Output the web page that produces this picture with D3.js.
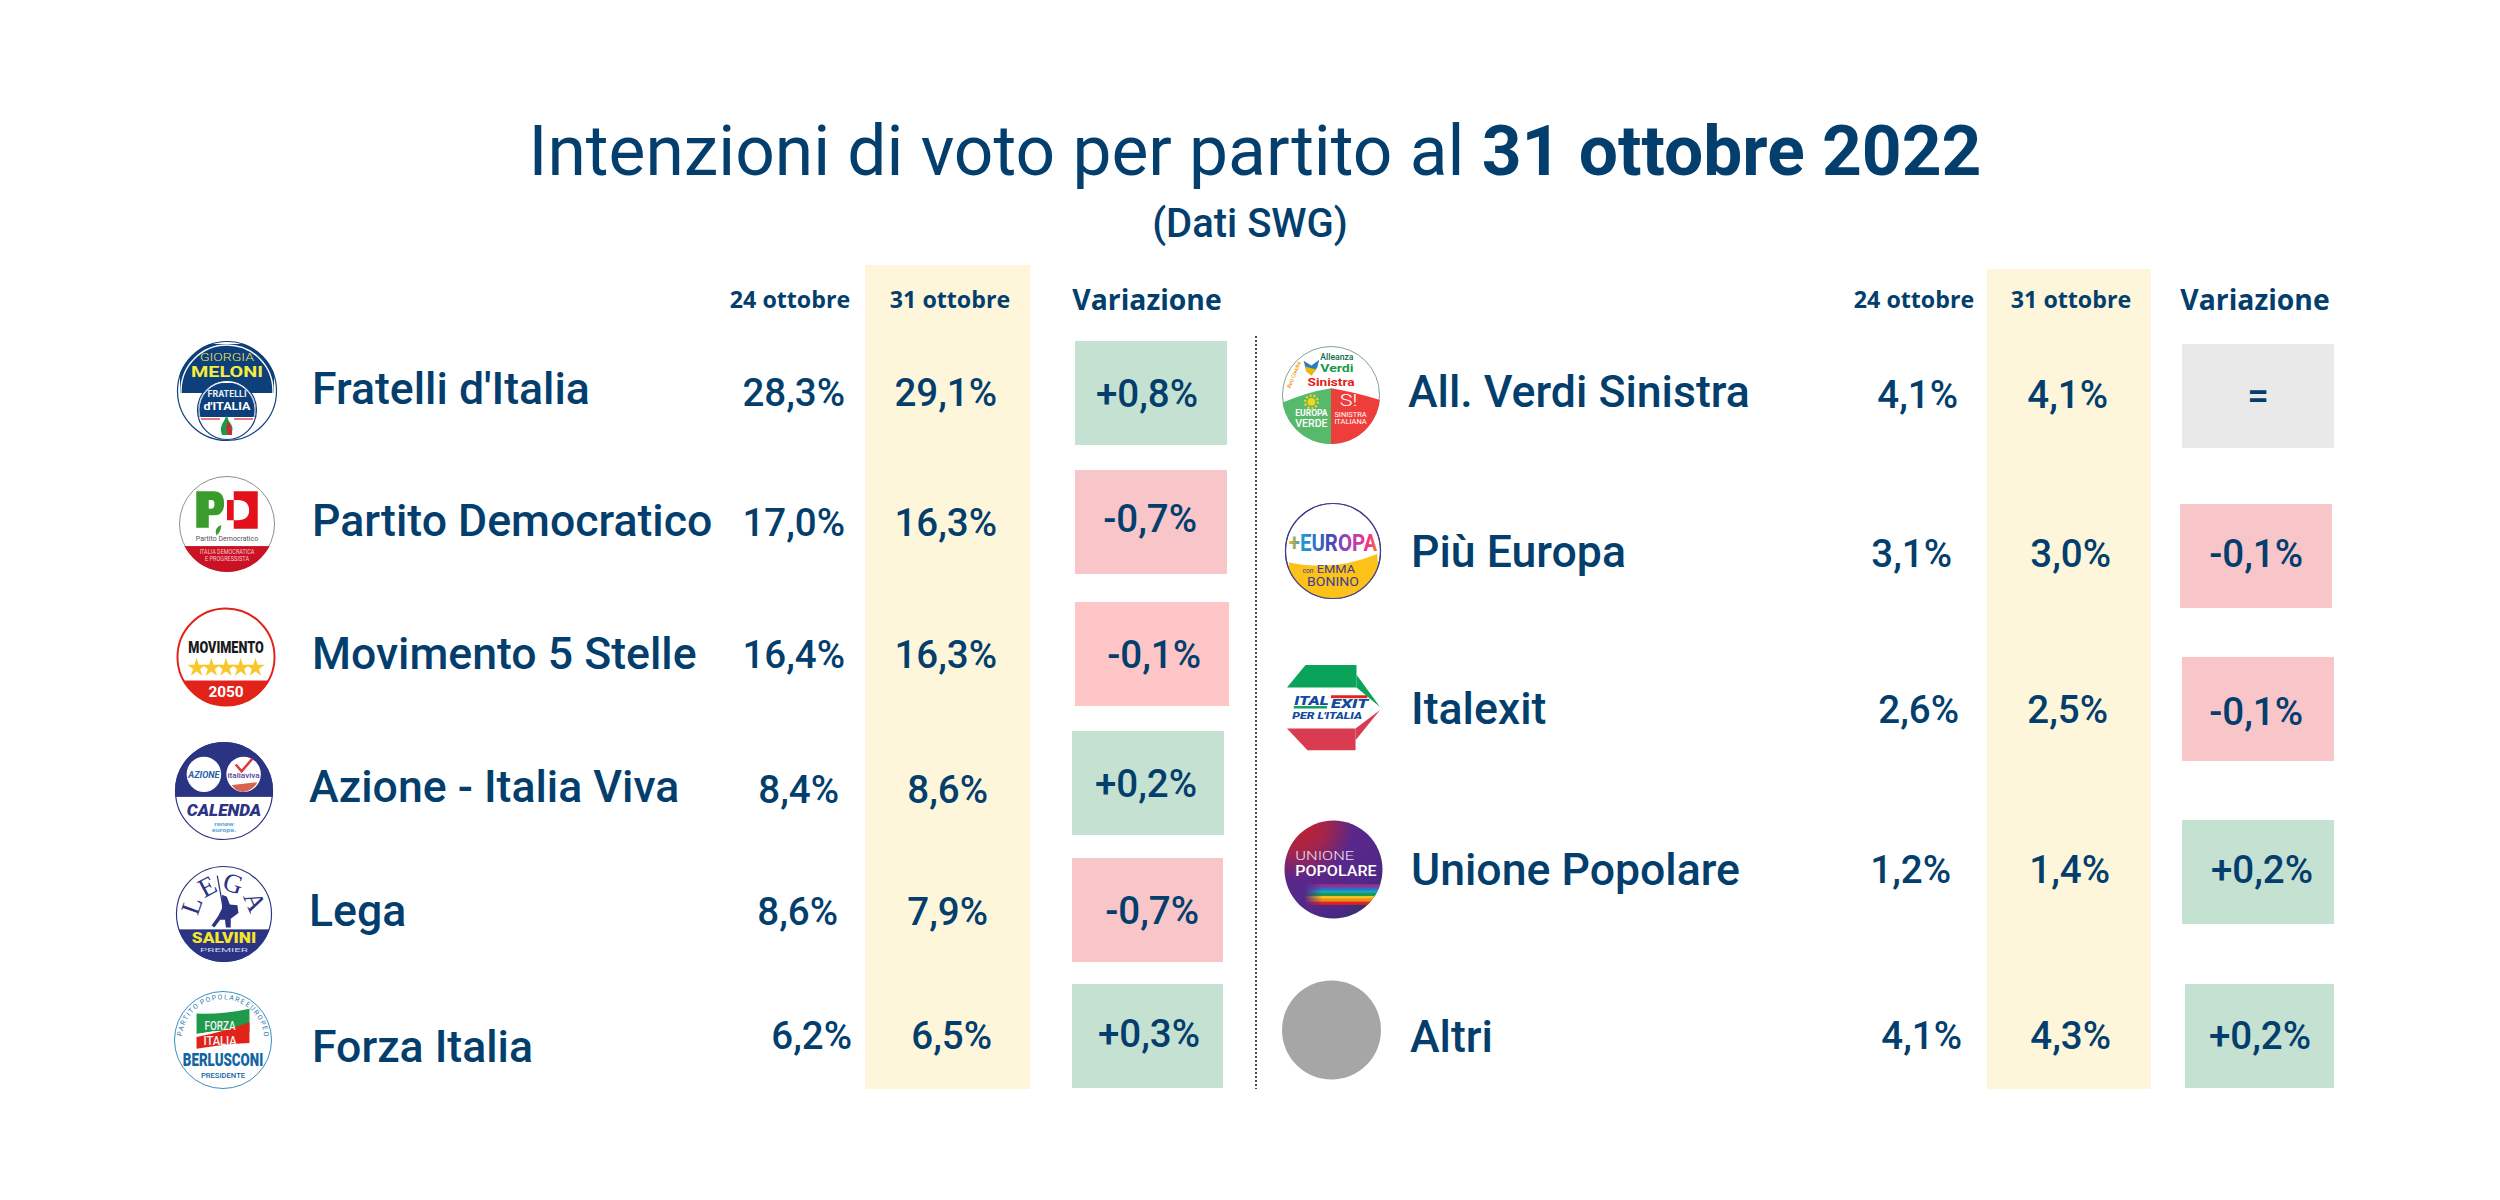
<!DOCTYPE html>
<html>
<head>
<meta charset="utf-8">
<title>Intenzioni di voto</title>
<script src="https://cdn.jsdelivr.net/npm/d3@7"></script>
<style>
  html, body { margin: 0; padding: 0; background: #fff; }
  text { font-family: Roboto, sans-serif; }
</style>
</head>
<body>
<div id="chart"></div>
<script>
// Values
const partiesLeft = ["Fratelli d'Italia", "Partito Democratico", "Movimento 5 Stelle", "Azione - Italia Viva", "Lega", "Forza Italia"];
const before24Left = [28.3, 17.0, 16.4, 8.4, 8.6, 6.2];
const now31Left = [29.1, 16.3, 16.3, 8.6, 7.9, 6.5];
const changeLeft = [0.8, -0.7, -0.1, 0.2, -0.7, 0.3];

const partiesRight = ["All. Verdi Sinistra", "Più Europa", "Italexit", "Unione Popolare", "Altri"];
const before24Right = [4.1, 3.1, 2.6, 1.2, 4.1];
const now31Right = [4.1, 3.0, 2.5, 1.4, 4.3];
const changeRight = [0, -0.1, -0.1, 0.2, 0.2];

const columnLabels = ["24 ottobre", "31 ottobre", "Variazione"];

// The rows of the original are placed by hand, so each column gets its own ordinal range
const leftLayout = {
  logoX: [227, 227, 226, 224, 224, 223],
  logoY: [391, 524, 657, 791, 914, 1040],
  logoR: [50, 48, 49, 49, 48, 49],
  nameX: [312, 312, 312, 309, 309, 312],
  nameY: [404, 536, 669, 802, 926, 1062],
  beforeX: [845, 845, 845, 839, 838, 852],
  nowX: [997, 997, 997, 988, 988, 992],
  valueY: [406, 536, 668, 803, 925, 1049],
  changeX: [1198, 1197, 1201, 1197, 1199, 1200],
  changeY: [407, 532, 668, 797, 924, 1047],
  cellX: [1075, 1075, 1075, 1072, 1072, 1072],
  cellY: [341, 470, 602, 731, 858, 984],
  cellW: [152, 152, 154, 152, 151, 151],
  bandX: 865, bandW: 165, bandY: 265,
  headerX: [790, 950, 1147]
};
const rightLayout = {
  logoX: [1331, 1333, 1333, 1333.5, 1331.5],
  logoY: [395, 551, 708, 869.5, 1030],
  logoR: [49, 48, 49, 49, 49.5],
  nameX: [1408, 1411, 1411, 1411, 1410],
  nameY: [407, 567, 724, 885, 1052],
  beforeX: [1958, 1952, 1959, 1951, 1962],
  nowX: [2108, 2111, 2108, 2110, 2111],
  valueY: [408, 567, 723, 883, 1049],
  changeX: [2269, 2303, 2303, 2313, 2311],
  changeY: [409, 567, 725, 883, 1049],
  cellX: [2182, 2180, 2182, 2182, 2185],
  cellY: [344, 504, 657, 820, 984],
  cellW: [152, 152, 152, 152, 149],
  bandX: 1987, bandW: 164, bandY: 269,
  headerX: [1914, 2071, 2255]
};

const navy = "#033e6d";
const bandBottom = 1089;
const cellHeight = 104;

const itFormat = d3.formatLocale({decimal: ",", thousands: ".", grouping: [3], currency: ["", "€"], minus: "-"});
const pct = itFormat.format(".1f");
const signedPct = itFormat.format("+.1f");

const svg = d3.select("#chart").append("svg")
  .attr("width", 2500)
  .attr("height", 1200)
  .style("display", "block");
const defs = svg.append("defs");

// Title
const title = svg.append("text")
  .attr("x", 1255)
  .attr("y", 175)
  .attr("text-anchor", "middle")
  .attr("fill", navy)
  .style("font-size", "69.5px");
title.append("tspan").text("Intenzioni di voto per partito al ");
title.append("tspan").style("font-weight", 700).text("31 ottobre 2022");

svg.append("text")
  .attr("x", 1250)
  .attr("y", 237)
  .attr("text-anchor", "middle")
  .attr("fill", navy)
  .style("font-size", "40px")
  .style("font-weight", 500)
  .text("(Dati SWG)");

// ---- small helpers for the logos, all in a local frame where the radius is 50
let uid = 0;

function label(g, str, x, y, size, fill, opts = {}) {
  const t = g.append("text")
    .attr("x", x)
    .attr("y", y)
    .attr("text-anchor", opts.anchor || "middle")
    .attr("fill", fill)
    .style("font-size", `${size}px`)
    .style("font-weight", opts.weight || 700)
    .style("font-family", opts.family || "Roboto, sans-serif")
    .style("font-style", opts.style || "normal")
    .text(str);
  if (opts.width) t.attr("textLength", opts.width).attr("lengthAdjust", "spacingAndGlyphs");
  return t;
}

function clipped(g) {
  const id = `logo-clip-${uid++}`;
  defs.append("clipPath").attr("id", id).append("circle").attr("r", 50);
  return g.append("g").attr("clip-path", `url(#${id})`);
}

function disc(g, fill, stroke, sw) {
  g.append("circle").attr("r", 49.5).attr("fill", fill).attr("stroke", stroke).attr("stroke-width", sw);
}

function arcLabel(g, str, d, size, fill, family, spacing) {
  const id = `logo-arc-${uid++}`;
  defs.append("path").attr("id", id).attr("d", d);
  g.append("text")
    .attr("fill", fill)
    .attr("text-anchor", "middle")
    .style("font-size", `${size}px`)
    .style("font-family", family)
    .style("letter-spacing", `${spacing}px`)
    .append("textPath")
      .attr("href", `#${id}`)
      .attr("startOffset", "50%")
      .text(str);
}

const logoDrawers = {
  "Fratelli d'Italia": g => {
    disc(g, "#fff", "#12437c", 1.2);
    const c = clipped(g);
    c.append("rect").attr("x", -47).attr("y", -47).attr("width", 94).attr("height", 49).attr("fill", "#0d3f7a");
    g.append("circle").attr("r", 46).attr("fill", "none").attr("stroke", "#fff").attr("stroke-width", 1.4);
    g.append("circle").attr("cy", 19).attr("r", 29.5).attr("fill", "#fff").attr("stroke", "#0d3f7a").attr("stroke-width", 1.2);
    g.append("path").attr("d", "M-28,26 A29,29 0 0 1 -8,-8 L8,-8 A29,29 0 0 1 28,26 Z").attr("fill", "#0d3f7a");
    g.append("circle").attr("cy", 19).attr("r", 28).attr("fill", "none").attr("stroke", "#fff").attr("stroke-width", 0.8);
    g.append("path").attr("d", "M-26,28 H-7").attr("stroke", "#d9232e").attr("stroke-width", 1.2);
    g.append("path").attr("d", "M7,28 H26").attr("stroke", "#d9232e").attr("stroke-width", 1.2);
    g.append("path").attr("d", "M-5,44 Q-8,36 -3,30 Q-2,27 0,24 Q1,30 4,33 Q7,38 4,44 Z").attr("fill", "#1a9a4a");
    g.append("path").attr("d", "M1,44 Q-2,36 1,30 Q5,36 5,44 Z").attr("fill", "#d9232e");
    label(g, "GIORGIA", 0, -30, 11, "#f2e95a", {weight: 300, width: 54});
    label(g, "MELONI", 0, -14, 14.5, "#f6ec3f", {width: 72});
    label(g, "FRATELLI", 0, 6, 8.5, "#e8eef5", {width: 39});
    label(g, "d'ITALIA", 0, 19, 11.5, "#fff", {width: 47});
  },
  "Partito Democratico": g => {
    disc(g, "#fff", "#8a8a8a", 1);
    const c = clipped(g);
    c.append("rect").attr("x", -50).attr("y", 23).attr("width", 100).attr("height", 30).attr("fill", "#cb1124");
    g.append("path")
      .attr("fill-rule", "evenodd")
      .attr("fill", "#3a9c2c")
      .attr("d", "M-32,-34 H-14 Q-3,-34 -3,-21 Q-3,-9 -14,-9 H-19 V4 H-32 Z M-19,-25 V-16 H-16 Q-13,-16 -13,-21 Q-13,-25 -16,-25 Z");
    g.append("path")
      .attr("fill-rule", "evenodd")
      .attr("fill", "#e30f1b")
      .attr("d", "M7,-34 H32 V5 H7 V-4 H11 Q23,-4 23,-14 Q23,-25 11,-25 H7 Z M0,-25 H7 V-4 H0 Z");
    g.append("path").attr("d", "M-11,12 Q-14,4 -6,1 Q-6,8 -11,12 Z").attr("fill", "#3a9c2c");
    label(g, "Partito Democratico", 0, 18, 7, "#555", {weight: 400, width: 65});
    label(g, "ITALIA DEMOCRATICA", 0, 31, 6.8, "#f6c9cc", {weight: 400, width: 57});
    label(g, "E PROGRESSISTA", 0, 39, 6.8, "#f6c9cc", {weight: 400, width: 46});
  },
  "Movimento 5 Stelle": g => {
    disc(g, "#fff", "#e2231a", 2);
    const c = clipped(g);
    c.append("rect").attr("x", -50).attr("y", 24).attr("width", 100).attr("height", 30).attr("fill", "#e2231a");
    label(g, "MOVIMENTO", 0, -4, 16.5, "#1a1a1a", {weight: 900, width: 77});
    const star = d3.symbol().type(d3.symbolStar).size(110);
    [-30, -15, 0, 15, 30].forEach(x => {
      g.append("path").attr("d", star()).attr("transform", `translate(${x},11)`).attr("fill", "#f7c82c");
    });
    label(g, "2050", 0, 41, 14, "#fff", {width: 36});
  },
  "Azione - Italia Viva": g => {
    disc(g, "#fff", "#2b3383", 1.2);
    const c = clipped(g);
    c.append("rect").attr("x", -50).attr("y", -50).attr("width", 100).attr("height", 56).attr("fill", "#2b3383");
    g.append("ellipse").attr("cx", -20.5).attr("cy", -17).attr("rx", 17.6).attr("ry", 18).attr("fill", "#fff");
    g.append("ellipse").attr("cx", 20).attr("cy", -17).attr("rx", 17.6).attr("ry", 18).attr("fill", "#fff");
    label(g, "AZIONE", -20.5, -13, 9, "#2a5ea8", {style: "italic", width: 32});
    g.append("path").attr("d", "M12,-27 L18,-20 L29,-33").attr("fill", "none").attr("stroke", "#e0383e").attr("stroke-width", 2.6);
    label(g, "italiaviva", 20, -13, 8, "#5b3f9e", {weight: 500, width: 33});
    g.append("path").attr("d", "M8,-6 Q20,-7 34,-9 Q30,-1 20,1 Q12,1 8,-6 Z").attr("fill", "#d9634f");
    label(g, "CALENDA", 0, 25, 16, "#2b3383", {style: "italic", weight: 900, width: 76});
    label(g, "renew", 0, 36, 5, "#5aa7dc", {width: 20});
    label(g, "europe.", 0, 42, 5, "#5aa7dc", {width: 25});
  },
  "Lega": g => {
    disc(g, "#fff", "#2b3383", 1.2);
    const c = clipped(g);
    c.append("rect").attr("x", -50).attr("y", 16).attr("width", 100).attr("height", 36).attr("fill", "#2b3383");
    arcLabel(g, "LEGA", "M-26,2 A26,26 0 0 1 26,2", 28, "#2b3383", "'Liberation Serif', serif", 2);
    g.append("path").attr("d", "M-7,-40 L-1,-7").attr("stroke", "#2b3383").attr("stroke-width", 1.3);
    g.append("path").attr("fill", "#2b3383")
      .attr("d", "M-2,-20 L3,-18 L6,-10 L14,-9 L15,-1 L7,5 L7,14 L2,14 L1,6 L-4,6 L-10,14 L-13,12 L-6,2 L-2,-6 Z");
    label(g, "SALVINI", 0, 30, 16, "#f6e62b", {weight: 900, width: 67});
    label(g, "PREMIER", 0, 40, 6, "#cfd3ea", {weight: 400, width: 50});
  },
  "Forza Italia": g => {
    disc(g, "#fff", "#1f7bb5", 0.9);
    // three short arcs, so that the boxes of the words stay off the flag text
    arcLabel(g, "PARTITO", "M-42,-3 A42,42 0 0 1 -23,-35", 7, "#1f7bb5", "Roboto, sans-serif", 1.3);
    arcLabel(g, "POPOLARE", "M-21,-36 A42,42 0 0 1 21,-36", 7, "#1f7bb5", "Roboto, sans-serif", 1.3);
    arcLabel(g, "EUROPEO", "M23,-35 A42,42 0 0 1 42,-3", 7, "#1f7bb5", "Roboto, sans-serif", 1.3);
    g.append("path").attr("d", "M-27,-27 Q0,-26 27,-32 V-8 Q0,-12 -27,-6 Z").attr("fill", "#1f9a4a");
    g.append("path").attr("d", "M-27,-6 Q0,-12 27,-8 V5 Q0,4 -27,9 Z").attr("fill", "#fff");
    g.append("path").attr("d", "M27,-18 V3 Q0,4 -27,9 V-3 Q0,-8 27,-18 Z").attr("fill", "#e2231a");
    label(g, "FORZA", -3, -10, 12.5, "#f3f3f3", {width: 32, weight: 500});
    label(g, "ITALIA", -3, 5, 12.5, "#f3f3f3", {width: 34, weight: 500});
    label(g, "BERLUSCONI", 0, 27, 19, "#1264a3", {weight: 900, width: 82});
    label(g, "PRESIDENTE", 0, 39, 7.5, "#1264a3", {weight: 500, width: 45});
  },
  "All. Verdi Sinistra": g => {
    disc(g, "#fff", "#5c8a74", 0.8);
    const c = clipped(g);
    c.append("path").attr("d", "M-50,8 Q-25,-3 0,-7 V50 H-50 Z").attr("fill", "#57b96b");
    c.append("path").attr("d", "M0,-7 Q25,-3 50,5 V50 H0 Z").attr("fill", "#ee3e3c");
    label(g, "Alleanza", 6, -36, 8.5, "#0d6b4a", {weight: 500, width: 34});
    label(g, "Verdi", 6, -23, 12, "#1a9a4a", {width: 34});
    label(g, "Sinistra", 0, -9, 12, "#e2231a", {width: 48});
    label(g, "Reti Civiche", 0, 0, 5.5, "#f39200", {weight: 500}).attr("transform", "translate(-36,-20) rotate(-68)");
    g.append("path").attr("d", "M-28,-35 L-20,-30 L-12,-36 L-14,-28 L-20,-20 L-25,-24 Z").attr("fill", "#2a7fc1");
    g.append("path").attr("d", "M-27,-29 L-15,-26 L-20,-20 L-25,-24 Z").attr("fill", "#f2b705");
    g.append("circle").attr("cx", -20).attr("cy", 7).attr("r", 4).attr("fill", "#f5d51e");
    g.append("circle").attr("cx", -20).attr("cy", 7).attr("r", 6.5).attr("fill", "none")
      .attr("stroke", "#f5d51e").attr("stroke-width", 2.6).attr("stroke-dasharray", "2 2");
    label(g, "EUROPA", -20, 21, 9, "#fff", {width: 33});
    label(g, "VERDE", -20, 33, 11, "#fff", {weight: 500, width: 33});
    label(g, "S!", 18, 11, 17, "#fff", {weight: 300, width: 18});
    label(g, "SINISTRA", 20, 22, 6.5, "#fff", {weight: 400, width: 33});
    label(g, "ITALIANA", 20, 30, 6.5, "#fff", {weight: 400, width: 33});
  },
  "Più Europa": g => {
    const gradId = `logo-grad-${uid++}`;
    const grad = defs.append("linearGradient").attr("id", gradId);
    [["0%", "#f6b417"], ["15%", "#1f9ad6"], ["45%", "#3f4ab0"], ["70%", "#b03fb0"], ["90%", "#f0358a"], ["100%", "#f58220"]]
      .forEach(s => grad.append("stop").attr("offset", s[0]).attr("stop-color", s[1]));
    disc(g, "#fff", "#3f3c8f", 1.2);
    const c = clipped(g);
    c.append("path").attr("d", "M-46,12 Q0,22 46,3 L50,50 H-50 Z").attr("fill", "#fcc21a");
    g.append("circle").attr("r", 49.5).attr("fill", "none").attr("stroke", "#3f3c8f").attr("stroke-width", 1.2);
    label(g, "+EUROPA", 0, 0, 25, `url(#${gradId})`, {weight: 700, width: 92});
    label(g, "con", -26, 23, 7, "#3f3c8f", {weight: 400});
    label(g, "EMMA", 3, 23, 12, "#3f3c8f", {weight: 400, width: 40});
    label(g, "BONINO", 0, 36, 12.5, "#3f3c8f", {weight: 400, width: 54});
  },
  "Italexit": g => {
    g.append("path").attr("d", "M-47,-21 L-28,-44 L24,-44 L24,-21 Z").attr("fill", "#0aa35a");
    g.append("path").attr("d", "M24,-34 L48,-1 L24,-21 Z").attr("fill", "#0aa35a");
    g.append("path").attr("d", "M-47,21 L23,21 L23,43 L-26,43 Z").attr("fill", "#d93b50");
    g.append("path").attr("d", "M23,33 L48,2 L23,21 Z").attr("fill", "#d93b50");
    g.append("rect").attr("x", -2).attr("y", -13).attr("width", 37).attr("height", 3).attr("fill", "#e2231a");
    g.append("rect").attr("x", -40).attr("y", -2).attr("width", 34).attr("height", 2.5).attr("fill", "#0aa35a");
    label(g, "ITAL", -22, -3, 13.5, "#124a9c", {style: "italic", weight: 900, width: 35});
    label(g, "EXIT", 17, 0, 13.5, "#124a9c", {style: "italic", weight: 900, width: 38});
    label(g, "PER L'ITALIA", -6, 11.5, 9, "#124a9c", {style: "italic", weight: 900, width: 71});
  },
  "Unione Popolare": g => {
    const gradId = `logo-grad-${uid++}`;
    const grad = defs.append("radialGradient")
      .attr("id", gradId).attr("cx", "15%").attr("cy", "5%").attr("r", "110%");
    [["0%", "#c3202c"], ["25%", "#a3254c"], ["50%", "#5a278a"], ["85%", "#4f2887"], ["100%", "#33306e"]]
      .forEach(s => grad.append("stop").attr("offset", s[0]).attr("stop-color", s[1]));
    const maskId = `logo-mask-${uid++}`;
    const maskGrad = defs.append("linearGradient").attr("id", `${maskId}g`);
    maskGrad.append("stop").attr("offset", "0%").attr("stop-color", "#000");
    maskGrad.append("stop").attr("offset", "22%").attr("stop-color", "#fff");
    defs.append("mask").attr("id", maskId).attr("maskUnits", "userSpaceOnUse")
      .attr("x", -30).attr("y", 10).attr("width", 85).attr("height", 30)
      .append("rect").attr("x", -30).attr("y", 10).attr("width", 85).attr("height", 30).attr("fill", `url(#${maskId}g)`);
    g.append("circle").attr("r", 50).attr("fill", `url(#${gradId})`);
    const c = clipped(g);
    const bars = c.append("g").attr("mask", `url(#${maskId})`);
    ["#a32a8f", "#2f6fc4", "#15a3c7", "#1f9a4a", "#f2c21a", "#f08a1c", "#e2231a"].forEach((col, i) => {
      bars.append("rect").attr("x", -30).attr("y", 15 + i * 3).attr("width", 85).attr("height", 3).attr("fill", col);
    });
    label(g, "UNIONE", -39, -10, 13.5, "#e8e0f0", {weight: 300, anchor: "start", width: 60});
    label(g, "POPOLARE", -39, 7, 15, "#fff", {weight: 500, anchor: "start", width: 83});
  },
  "Altri": g => {
    g.append("circle").attr("r", 50).attr("fill", "#a6a6a6");
  }
};

// Draws one of the two side by side tables
function drawPanel(parties, before24, now31, change, layout) {
  const rows = parties.map((party, i) => ({party, before: before24[i], now: now31[i], change: change[i]}));
  const ord = range => d3.scaleOrdinal().domain(parties).range(range);

  const logoX = ord(layout.logoX), logoY = ord(layout.logoY), logoR = ord(layout.logoR);
  const nameX = ord(layout.nameX), nameY = ord(layout.nameY);
  const beforeX = ord(layout.beforeX), nowX = ord(layout.nowX), valueY = ord(layout.valueY);
  const changeX = ord(layout.changeX), changeY = ord(layout.changeY);
  const cellX = ord(layout.cellX), cellY = ord(layout.cellY), cellW = ord(layout.cellW);
  const headerX = d3.scaleOrdinal().domain(columnLabels).range(layout.headerX);

  const panel = svg.append("g");

  // Highlighted column behind the latest values
  panel.append("rect")
    .attr("x", layout.bandX)
    .attr("y", layout.bandY)
    .attr("width", layout.bandW)
    .attr("height", bandBottom - layout.bandY)
    .attr("fill", "#fdf6da");

  panel.selectAll(".header")
    .data(columnLabels)
    .enter().append("text")
      .attr("class", "header")
      .attr("x", d => headerX(d))
      .attr("y", d => d === "Variazione" ? 310 : 308)
      .attr("text-anchor", "middle")
      .attr("fill", navy)
      .style("font-family", "'Open Sans', sans-serif")
      .style("font-weight", 700)
      .style("font-size", d => d === "Variazione" ? "28.3px" : "23.2px")
      .text(d => d);

  // Coloured cells of the change column
  panel.selectAll(".cell")
    .data(rows)
    .enter().append("rect")
      .attr("class", "cell")
      .attr("x", d => cellX(d.party))
      .attr("y", d => cellY(d.party))
      .attr("width", d => cellW(d.party))
      .attr("height", cellHeight)
      .attr("fill", d => {
        if (d.change === 0) return "#e9e9e9";
        if (d.party === "Movimento 5 Stelle") return "#fec6c6";
        return d.change > 0 ? "#c5e1d1" : "#f8c5c9";
      });

  panel.selectAll(".logo")
    .data(rows)
    .enter().append("g")
      .attr("class", "logo")
      .attr("transform", d => `translate(${logoX(d.party)},${logoY(d.party)}) scale(${logoR(d.party) / 50})`)
      .each(function(d) { logoDrawers[d.party](d3.select(this)); });

  panel.selectAll(".name")
    .data(rows)
    .enter().append("text")
      .attr("class", "name")
      .attr("x", d => nameX(d.party))
      .attr("y", d => nameY(d.party))
      .attr("fill", navy)
      .style("font-size", "44.6px")
      .style("font-weight", 500)
      .text(d => d.party);

  const valueText = (cls, x, y, fmt) => panel.selectAll(`.${cls}`)
    .data(rows)
    .enter().append("text")
      .attr("class", cls)
      .attr("x", d => x(d.party))
      .attr("y", d => y(d.party))
      .attr("text-anchor", "end")
      .attr("fill", navy)
      .style("font-size", "38.5px")
      .style("font-weight", 500)
      .text(fmt);

  valueText("before", beforeX, valueY, d => `${pct(d.before)}%`);
  valueText("now", nowX, valueY, d => `${pct(d.now)}%`);
  valueText("change", changeX, changeY, d => d.change === 0 ? "=" : `${signedPct(d.change)}%`);
}

drawPanel(partiesLeft, before24Left, now31Left, changeLeft, leftLayout);
drawPanel(partiesRight, before24Right, now31Right, changeRight, rightLayout);

// Dotted separator between the two tables
svg.append("line")
  .attr("x1", 1256)
  .attr("y1", 336)
  .attr("x2", 1256)
  .attr("y2", 1089)
  .attr("stroke", "#222")
  .attr("stroke-width", 1.6)
  .attr("stroke-dasharray", "2 2");
</script>
</body>
</html>
